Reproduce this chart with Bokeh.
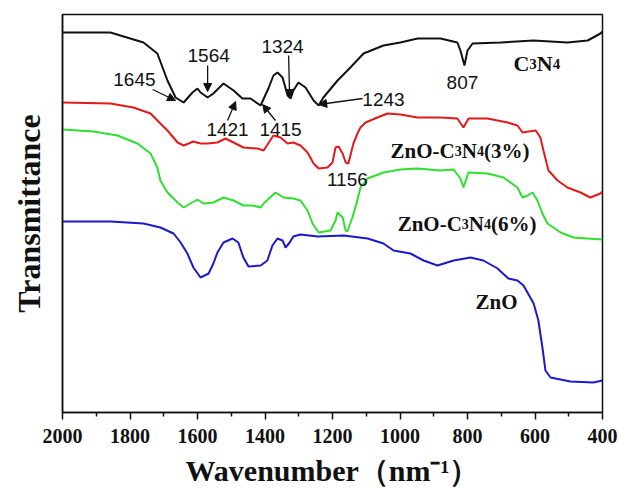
from bokeh.plotting import figure
from bokeh.models import Range1d, FixedTicker, Arrow, NormalHead
from bokeh.core.properties import value
from bokeh.embed import file_html
from bokeh.resources import INLINE

# ---------------- data (wavenumber cm^-1, transmittance a.u., offset) ----------------
c3n4_w = [2000, 1858, 1760, 1719, 1689, 1665, 1641, 1615, 1600, 1591, 1570, 1553, 1523, 1493,
          1467, 1443, 1413, 1390, 1375, 1363, 1348, 1333, 1324, 1316, 1301, 1280, 1256, 1241,
          1227, 1185, 1147, 1108, 1049, 999, 948, 880, 830, 821, 809, 800, 785, 702, 604, 504,
          444, 406, 400]
c3n4_t = [380, 380, 370, 359, 332, 315, 310, 320, 324, 320, 315, 319, 329, 322,
          314, 314, 307, 324, 337, 340, 335, 317, 314, 322, 330, 325, 312, 307,
          315, 332, 345, 359, 367, 370, 374, 374, 370, 362, 347, 362, 369, 370, 372, 370,
          372, 379, 381]

zc3_w = [2000, 1858, 1790, 1739, 1710, 1689, 1659, 1641, 1612, 1591, 1570, 1541, 1517, 1493,
         1464, 1422, 1404, 1375, 1354, 1333, 1316, 1295, 1274, 1256, 1241, 1215, 1200, 1191,
         1182, 1170, 1161, 1153, 1147, 1138, 1126, 1117, 1102, 1067, 1037, 999, 948, 880, 830,
         812, 797, 741, 681, 652, 637, 619, 598, 584, 575, 560, 533, 504, 465, 436, 406, 400]
zc3_t = [310, 309, 305, 299, 289, 282, 270, 267, 271, 269, 269, 270, 274, 270,
         265, 264, 262, 277, 275, 269, 270, 267, 260, 249, 244, 245, 250, 265,
         266, 259, 250, 249, 257, 269, 279, 285, 290, 295, 299, 298, 295, 295, 294,
         285, 294, 294, 290, 287, 280, 281, 282, 275, 262, 242, 232, 225, 220, 215, 219, 221]

zc6_w = [2000, 1908, 1837, 1778, 1739, 1719, 1710, 1689, 1659, 1641, 1621, 1600, 1582, 1553,
         1523, 1493, 1464, 1437, 1413, 1404, 1369, 1345, 1316, 1295, 1274, 1259, 1241, 1206,
         1191, 1185, 1170, 1161, 1156, 1141, 1129, 1117, 1096, 1049, 999, 948, 880, 841, 821,
         812, 797, 741, 693, 652, 637, 622, 607, 593, 578, 563, 524, 486, 444, 400]
zc6_t = [283, 281, 277, 269, 259, 245, 232, 220, 210, 205, 209, 213, 209, 210,
         215, 212, 207, 207, 205, 209, 220, 215, 214, 212, 202, 189, 180, 182,
         192, 200, 195, 182, 181, 195, 209, 225, 234, 240, 243, 244, 242, 243, 234,
         225, 240, 239, 235, 225, 215, 217, 220, 212, 199, 189, 180, 175, 174, 173]

zno_w = [2000, 1858, 1760, 1710, 1671, 1650, 1630, 1612, 1591, 1567, 1553, 1541, 1523, 1496,
         1479, 1464, 1449, 1413, 1393, 1378, 1363, 1348, 1339, 1327, 1316, 1295, 1244, 1167,
         1096, 1049, 1019, 969, 930, 889, 841, 791, 753, 711, 679, 652, 634, 604, 590, 578,
         569, 554, 495, 427, 400]
zno_t = [191, 191, 189, 185, 179, 170, 159, 145, 135, 139, 149, 160, 170, 174,
         170, 155, 146, 147, 152, 167, 174, 172, 165, 170, 176, 178, 176, 177,
         174, 169, 162, 159, 152, 147, 152, 155, 152, 144, 134, 132, 127, 109, 92, 65,
         42, 35, 31, 30, 32]

x_ticks = [2000, 1800, 1600, 1400, 1200, 1000, 800, 600, 400]
x_minor = [1900, 1700, 1500, 1300, 1100, 900, 700, 500]

# peak annotations: label, label x, label y, arrow start/end
peak_text = ["1645", "1564", "1324", "1421", "1415", "1243", "807", "1156"]
peak_x = [1787, 1567, 1348, 1511, 1354, 1049, 815, 1156]
peak_y = [333, 357, 366, 283, 283, 313, 330, 233]
arrow_x0 = [1733, 1570, 1330, 1511, 1369, 1111]
arrow_y0 = [323, 347, 357, 292, 292, 314]
arrow_x1 = [1665, 1570, 1327, 1487, 1407, 1241]
arrow_y1 = [312, 321, 315, 311, 308, 308]

# ---------------- figure ----------------
p = figure(width=619, height=489, output_backend="svg", toolbar_location=None,
           x_range=Range1d(2000, 400), y_range=Range1d(0, 398),
           min_border_left=62, min_border_right=17, min_border_top=14, min_border_bottom=77)
p.grid.visible = False
p.outline_line_color = "#111111"
p.outline_line_width = 1.5
p.background_fill_color = "white"
p.border_fill_color = "white"

serif = "Liberation Serif"

p.xaxis.ticker = FixedTicker(ticks=x_ticks, minor_ticks=x_minor)
p.xaxis.axis_line_width = 1.5
p.xaxis.axis_line_color = "#111111"
p.xaxis.major_tick_in = 0
p.xaxis.major_tick_out = 7
p.xaxis.minor_tick_in = 0
p.xaxis.minor_tick_out = 4
p.xaxis.major_tick_line_width = 1.5
p.xaxis.minor_tick_line_width = 1.5
p.xaxis.major_tick_line_color = "#111111"
p.xaxis.minor_tick_line_color = "#111111"
p.xaxis.major_label_text_font = serif
p.xaxis.major_label_text_font_style = "bold"
p.xaxis.major_label_text_font_size = "20px"
p.xaxis.major_label_text_color = "#111111"
p.xaxis.major_label_standoff = 9
p.xaxis.axis_label = "Wavenumber（nm⁻¹）"
p.xaxis.axis_label_text_font = serif
p.xaxis.axis_label_text_font_style = "bold"
p.xaxis.axis_label_text_font_size = "30px"
p.xaxis.axis_label_text_color = "#111111"
p.xaxis.axis_label_standoff = 8

p.yaxis.ticker = FixedTicker(ticks=[])
p.yaxis.axis_line_width = 1.5
p.yaxis.axis_line_color = "#111111"
p.yaxis.major_tick_line_color = None
p.yaxis.minor_tick_line_color = None
p.yaxis.major_label_text_font_size = "0px"
p.yaxis.axis_label = "Transmittance"
p.yaxis.axis_label_text_font = serif
p.yaxis.axis_label_text_font_style = "bold"
p.yaxis.axis_label_text_font_size = "32px"
p.yaxis.axis_label_text_color = "#111111"
p.yaxis.axis_label_standoff = 16

lw = 2
p.line(c3n4_w, c3n4_t, line_color="#111111", line_width=lw)
p.line(zc3_w, zc3_t, line_color="#e31a1c", line_width=lw)
p.line(zc6_w, zc6_t, line_color="#2fe02f", line_width=lw)
p.line(zno_w, zno_t, line_color="#1a1ac8", line_width=lw)

sans = "Liberation Sans"
p.text(x=peak_x, y=peak_y, text=peak_text, text_font=value(sans), text_font_size="19px",
       text_align="center", text_baseline="middle", text_color="#111111")

for x0, y0, x1, y1 in zip(arrow_x0, arrow_y0, arrow_x1, arrow_y1):
    p.add_layout(Arrow(x_start=x0, y_start=y0, x_end=x1, y_end=y1, line_width=1.3,
                       line_color="#111111",
                       end=NormalHead(size=8, fill_color="#111111", line_color="#111111")))

# Times-Bold advance widths (per 1000 em)
W = {"Z": 667, "n": 556, "O": 778, "-": 333, "C": 722, "N": 722, "3": 500, "4": 500,
     "6": 500, "(": 333, ")": 333, "%": 1000}


def rich(x, y, segs):
    off = 0.0
    for s, size in segs:
        p.text(x=[x], y=[y], text=[s], x_offset=off, text_font=value(serif),
               text_font_style="bold", text_font_size=f"{size}px", text_align="left",
               text_baseline="alphabetic", text_color="#111111")
        off += sum(W[c] for c in s) * size / 1000.0


big, small = 21, 14
rich(664, 349, [("C", 22), ("3", 15), ("N", 22), ("4", 15)])
rich(1028, 262, [("ZnO-C", big), ("3", small), ("N", big), ("4", small), ("(3%)", big)])
rich(1007, 189, [("ZnO-C", big), ("3", small), ("N", big), ("4", small), ("(6%)", big)])
rich(776, 111, [("ZnO", big)])

open("out.html", "w").write(file_html(p, INLINE))
